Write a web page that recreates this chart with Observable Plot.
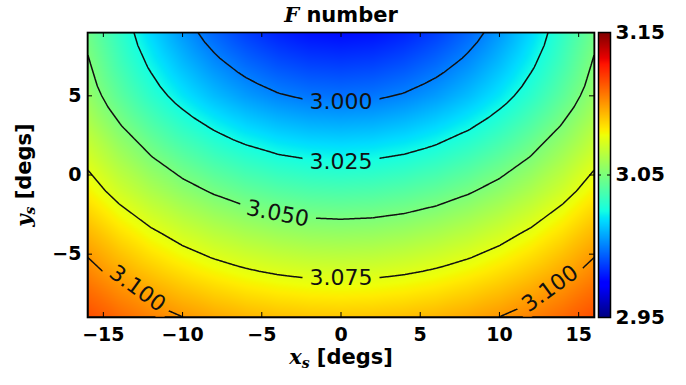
<!DOCTYPE html>
<html>
<head>
<meta charset="utf-8">
<script src="https://cdn.jsdelivr.net/npm/d3@7"></script>
<script src="https://cdn.jsdelivr.net/npm/@observablehq/plot@0.6"></script>
<style>
  body { margin: 0; background: #fff; }
  #wrap { display: flex; width: 686px; height: 385px; }
  #wrap svg { display: block; flex: none; }
</style>
</head>
<body>
<div id="wrap"></div>
<script>
// ---- data ----
const xGrid = [-16, -14, -12, -10, -8, -6, -4, -2, 0, 2, 4, 6, 8, 10, 12, 14, 16];
const yGrid = [9, 7, 5, 3, 1, -1, -3, -5, -7, -9];
const fGrid = [
  [3.0470,3.0318,3.0172,3.0049,2.9948,2.9870,2.9814,2.9780,2.9769,2.9780,2.9814,2.9870,2.9948,3.0049,3.0172,3.0318,3.0470],
  [3.0515,3.0362,3.0231,3.0120,3.0029,2.9959,2.9908,2.9878,2.9868,2.9878,2.9908,2.9959,3.0029,3.0120,3.0231,3.0362,3.0515],
  [3.0562,3.0424,3.0304,3.0203,3.0120,3.0056,3.0010,2.9982,2.9973,2.9982,3.0010,3.0056,3.0120,3.0203,3.0304,3.0424,3.0562],
  [3.0639,3.0514,3.0405,3.0313,3.0238,3.0179,3.0137,3.0112,3.0104,3.0112,3.0137,3.0179,3.0238,3.0313,3.0405,3.0514,3.0639],
  [3.0722,3.0609,3.0512,3.0429,3.0361,3.0309,3.0271,3.0249,3.0241,3.0249,3.0271,3.0309,3.0361,3.0429,3.0512,3.0609,3.0722],
  [3.0807,3.0706,3.0619,3.0545,3.0485,3.0437,3.0404,3.0384,3.0377,3.0384,3.0404,3.0437,3.0485,3.0545,3.0619,3.0706,3.0807],
  [3.0903,3.0812,3.0733,3.0666,3.0611,3.0569,3.0538,3.0520,3.0514,3.0520,3.0538,3.0569,3.0611,3.0666,3.0733,3.0812,3.0903],
  [3.0992,3.0911,3.0840,3.0781,3.0732,3.0695,3.0668,3.0651,3.0646,3.0651,3.0668,3.0695,3.0732,3.0781,3.0840,3.0911,3.0992],
  [3.1078,3.1007,3.0946,3.0894,3.0852,3.0818,3.0795,3.0781,3.0776,3.0781,3.0795,3.0818,3.0852,3.0894,3.0946,3.1007,3.1078],
  [3.1158,3.1098,3.1046,3.1002,3.0966,3.0938,3.0918,3.0906,3.0902,3.0906,3.0918,3.0938,3.0966,3.1002,3.1046,3.1098,3.1158]
];
const levels = [3.000, 3.025, 3.050, 3.075, 3.100];
const xTicks = [-15, -10, -5, 0, 5, 10, 15];
const yTicks = [-5, 0, 5];
const cbDomain = [2.95, 3.15];
const cbTicks = [2.95, 3.05, 3.15];
const labelLevel = [3.000, 3.025, 3.050, 3.075, 3.100, 3.100];
const labelX = [0, 0, -4.0, 0, -12.85, 13.2];
const labelY = [4.63, 0.81, -2.44, -6.48, -7.17, -7.17];
const labelAngle = [0, 0, 11, 0, 36, -36];

// ---- jet colormap ----
const jetR = d3.scaleLinear([0, 0.35, 0.66, 0.89, 1], [0, 0, 1, 1, 0.5]).clamp(true);
const jetG = d3.scaleLinear([0, 0.125, 0.375, 0.64, 0.91, 1], [0, 0, 1, 1, 0, 0]).clamp(true);
const jetB = d3.scaleLinear([0, 0.11, 0.34, 0.65, 1], [0.5, 1, 1, 0, 0]).clamp(true);
function jet(t) { return d3.rgb(255 * jetR(t), 255 * jetG(t), 255 * jetB(t)).formatRgb(); }

const points = [];
yGrid.forEach((y, j) => xGrid.forEach((x, i) => points.push({x, y, f: fGrid[j][i]})));
const labels = labelLevel.map((level, i) => ({level, x: labelX[i], y: labelY[i], angle: labelAngle[i]}));

const W = 596, H = 385;
const mT = 32, mB = 68, mL = 87, mR = 2;
const frameW = W - mL - mR, frameH = H - mT - mB;
const colorOpts = {type: "linear", domain: cbDomain, interpolate: jet};

const main = Plot.plot({
  width: W, height: H,
  marginTop: mT, marginBottom: mB, marginLeft: mL, marginRight: mR,
  style: {fontFamily: "DejaVu Sans", fontSize: "19px", background: "white", color: "black"},
  x: {domain: [-16, 16], label: null},
  y: {domain: [-9, 9], label: null},
  color: colorOpts,
  marks: [
    Plot.raster(points, {x: "x", y: "y", fill: "f", interpolate: "barycentric", pixelSize: 1}),
    Plot.contour(points, {x: "x", y: "y", value: "f", interpolate: "barycentric", pixelSize: 1,
      thresholds: levels, stroke: "#111", strokeWidth: 1.5, fill: "none", clip: true}),
    Plot.text(labels, {x: "x", y: "y", text: d => d.level.toFixed(3), rotate: "angle",
      fontSize: 22, fill: "#111", fontFamily: "DejaVu Sans"}),
    Plot.tickX(xTicks, {x: d => d, insetTop: frameH - 5, stroke: "black"}),
    Plot.tickX(xTicks, {x: d => d, insetBottom: frameH - 5, stroke: "black"}),
    Plot.tickY(yTicks, {y: d => d, insetRight: frameW - 5, stroke: "black"}),
    Plot.tickY(yTicks, {y: d => d, insetLeft: frameW - 5, stroke: "black"}),
    Plot.frame({stroke: "black", strokeWidth: 1.6}),
    Plot.axisX(xTicks, {anchor: "bottom", tickSize: 0, tickPadding: 10, fontWeight: "bold", fontSize: 19}),
    Plot.axisY(yTicks, {anchor: "left", tickSize: 0, tickPadding: 6, fontWeight: "bold", fontSize: 19})
  ]
});

const cbar = Plot.plot({
  width: 686 - W, height: H,
  marginTop: mT, marginBottom: mB, marginLeft: 2, marginRight: 76,
  style: {fontFamily: "DejaVu Sans", fontSize: "20px", background: "white", color: "black"},
  x: {domain: [0, 1], axis: null},
  y: {domain: cbDomain, axis: null},
  color: colorOpts,
  marks: [
    Plot.raster({fill: (x, y) => y, x1: 0, x2: 1, y1: cbDomain[0], y2: cbDomain[1], pixelSize: 1}),
    Plot.tickY([3.05], {y: d => d, insetRight: 9, stroke: "black"}),
    Plot.tickY([3.05], {y: d => d, insetLeft: 9, stroke: "black"}),
    Plot.frame({stroke: "black", strokeWidth: 1.5}),
    Plot.axisY(cbTicks, {anchor: "right", tickSize: 0, tickPadding: 5, tickFormat: ".2f", fontWeight: "bold", fontSize: 20})
  ]
});

const wrap = document.getElementById("wrap");
wrap.append(main, cbar);

// gaps in contour lines under the inline labels
(function applyGaps(svg) {
  const ns = "http://www.w3.org/2000/svg";
  const contourG = svg.querySelector('g[aria-label="contour"]');
  const texts = svg.querySelectorAll('g[aria-label="text"] text');
  if (!contourG || !texts.length) return;
  const defs = document.createElementNS(ns, "defs");
  const mask = document.createElementNS(ns, "mask");
  mask.setAttribute("id", "contour-gaps");
  mask.setAttribute("maskUnits", "userSpaceOnUse");
  mask.setAttribute("maskContentUnits", "userSpaceOnUse");
  mask.setAttribute("x", -2000); mask.setAttribute("y", -2000);
  mask.setAttribute("width", 5000); mask.setAttribute("height", 5000);
  const bg = document.createElementNS(ns, "rect");
  bg.setAttribute("x", -2000); bg.setAttribute("y", -2000);
  bg.setAttribute("width", 5000); bg.setAttribute("height", 5000);
  bg.setAttribute("fill", "white");
  mask.append(bg);
  const inv = contourG.getCTM().inverse();
  texts.forEach(t => {
    const bb = t.getBBox();
    const m = inv.multiply(t.getCTM());
    const r = document.createElementNS(ns, "rect");
    const pad = 7;
    r.setAttribute("x", bb.x - pad); r.setAttribute("y", bb.y);
    r.setAttribute("width", bb.width + 2 * pad); r.setAttribute("height", bb.height);
    r.setAttribute("transform", `matrix(${m.a},${m.b},${m.c},${m.d},${m.e},${m.f})`);
    r.setAttribute("fill", "black");
    mask.append(r);
  });
  defs.append(mask);
  svg.insertBefore(defs, svg.firstChild);
  contourG.setAttribute("mask", "url(#contour-gaps)");
})(main);

// title and axis labels with math-style glyphs
const sv = d3.select(main);
const title = sv.append("text").attr("x", 341).attr("y", 22).attr("text-anchor", "middle")
  .attr("font-family", "DejaVu Sans").attr("font-size", 21).attr("font-weight", "bold").attr("fill", "black");
title.append("tspan").attr("font-family", "DejaVu Serif").attr("font-style", "italic").text("F");
title.append("tspan").text(" number");

function mathLabel(sel, letter) {
  sel.attr("text-anchor", "middle").attr("font-family", "DejaVu Sans").attr("font-size", 21)
    .attr("font-weight", "bold").attr("fill", "black");
  sel.append("tspan").attr("font-family", "DejaVu Serif").attr("font-style", "italic").text(letter);
  sel.append("tspan").attr("font-family", "DejaVu Serif").attr("font-style", "italic")
    .attr("font-size", 14).attr("dy", 4).text("s");
  sel.append("tspan").attr("dy", -4).text(" [degs]");
}
mathLabel(sv.append("text").attr("x", 341).attr("y", 364), "x");
mathLabel(sv.append("text").attr("transform", "translate(31,175) rotate(-90)"), "y");
</script>
</body>
</html>
